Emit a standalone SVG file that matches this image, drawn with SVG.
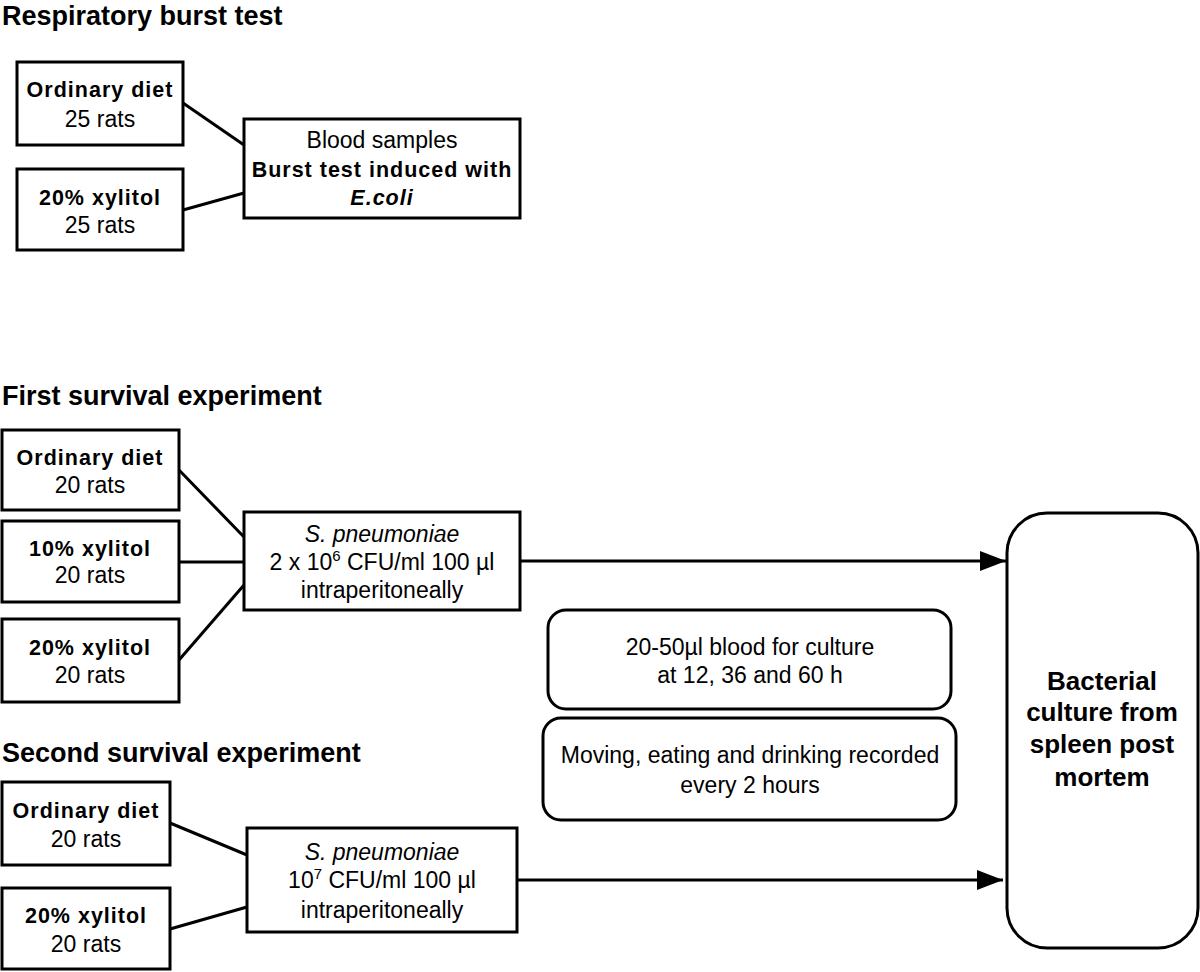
<svg xmlns="http://www.w3.org/2000/svg" width="1200" height="972" viewBox="0 0 1200 972">
<defs>
<style>
text{font-family:"Liberation Sans",Arial,sans-serif;fill:#000;}
.title{font-size:27px;font-weight:bold;}
.b{font-size:21.5px;font-weight:bold;letter-spacing:1px;}
.r{font-size:23px;}
.big{font-size:26px;font-weight:bold;}
.box{fill:#fff;stroke:#000;stroke-width:3;}
.ln{stroke:#000;stroke-width:3;fill:none;}
.c{text-anchor:middle;}
</style>
<marker id="ah" viewBox="0 0 26 20" refX="26" refY="10" markerWidth="26" markerHeight="20" markerUnits="userSpaceOnUse" orient="auto">
<path d="M0,0 L26,10 L0,20 Z" fill="#000"/>
</marker>
</defs>
<rect width="1200" height="972" fill="#fff"/>

<text class="title" x="2" y="25">Respiratory burst test</text>
<text class="title" x="2" y="405">First survival experiment</text>
<text class="title" x="2" y="762">Second survival experiment</text>

<g id="connectors">
<line class="ln" x1="183" y1="103" x2="244" y2="145"/>
<line class="ln" x1="183" y1="210" x2="244" y2="193"/>
<line class="ln" x1="179" y1="470" x2="244" y2="537"/>
<line class="ln" x1="179" y1="562" x2="244" y2="562"/>
<line class="ln" x1="179" y1="660" x2="244" y2="585"/>
<line class="ln" x1="170" y1="823" x2="247" y2="855"/>
<line class="ln" x1="170" y1="929" x2="247" y2="907"/>
<line class="ln" x1="520" y1="561" x2="1006" y2="561" marker-end="url(#ah)"/>
<line class="ln" x1="517" y1="880" x2="1003" y2="880" marker-end="url(#ah)"/>
</g>

<g id="rb-ordinary">
<rect class="box" x="17" y="62" width="166" height="83"/>
<text class="b c" x="100" y="97">Ordinary diet</text>
<text class="r c" x="100" y="127">25 rats</text>
</g>
<g id="rb-xylitol20">
<rect class="box" x="17" y="169" width="166" height="81"/>
<text class="b c" x="100" y="205">20% xylitol</text>
<text class="r c" x="100" y="233">25 rats</text>
</g>
<g id="rb-blood">
<rect class="box" x="244" y="119" width="276" height="99"/>
<text class="r c" x="382" y="148">Blood samples</text>
<text class="b c" x="382" y="177">Burst test induced with</text>
<text class="b c" x="382" y="205" font-style="italic">E.coli</text>
</g>

<g id="s1-ordinary">
<rect class="box" x="2" y="430" width="177" height="80"/>
<text class="b c" x="90" y="465">Ordinary diet</text>
<text class="r c" x="90" y="493">20 rats</text>
</g>
<g id="s1-xylitol10">
<rect class="box" x="2" y="521" width="177" height="81"/>
<text class="b c" x="90" y="556">10% xylitol</text>
<text class="r c" x="90" y="583">20 rats</text>
</g>
<g id="s1-xylitol20">
<rect class="box" x="2" y="619" width="177" height="83"/>
<text class="b c" x="90" y="655">20% xylitol</text>
<text class="r c" x="90" y="683">20 rats</text>
</g>
<g id="s1-inject">
<rect class="box" x="244" y="512" width="276" height="98"/>
<text class="r c" x="382" y="542" font-style="italic">S. pneumoniae</text>
<text class="r c" x="382" y="570">2 x 10<tspan font-size="15" dy="-9">6</tspan><tspan dy="9"> CFU/ml 100 µl</tspan></text>
<text class="r c" x="382" y="598">intraperitoneally</text>
</g>

<g id="s2-ordinary">
<rect class="box" x="2" y="782" width="168" height="83"/>
<text class="b c" x="86" y="818">Ordinary diet</text>
<text class="r c" x="86" y="847">20 rats</text>
</g>
<g id="s2-xylitol20">
<rect class="box" x="2" y="888" width="168" height="81"/>
<text class="b c" x="86" y="923">20% xylitol</text>
<text class="r c" x="86" y="952">20 rats</text>
</g>
<g id="s2-inject">
<rect class="box" x="247" y="828" width="270" height="104"/>
<text class="r c" x="382" y="860" font-style="italic">S. pneumoniae</text>
<text class="r c" x="382" y="888">10<tspan font-size="15" dy="-9">7</tspan><tspan dy="9"> CFU/ml 100 µl</tspan></text>
<text class="r c" x="382" y="918">intraperitoneally</text>
</g>

<g id="blood-culture">
<rect class="box" x="548" y="610" width="403" height="99" rx="18"/>
<text class="r c" x="750" y="655">20-50µl blood for culture</text>
<text class="r c" x="750" y="683">at 12, 36 and 60 h</text>
</g>
<g id="monitoring">
<rect class="box" x="543" y="718" width="413" height="102" rx="18"/>
<text class="r c" x="750" y="763">Moving, eating and drinking recorded</text>
<text class="r c" x="750" y="793">every 2 hours</text>
</g>
<g id="spleen">
<rect class="box" x="1007" y="513" width="191" height="435" rx="40"/>
<text class="big c" x="1102" y="690">Bacterial</text>
<text class="big c" x="1102" y="721">culture from</text>
<text class="big c" x="1102" y="753">spleen post</text>
<text class="big c" x="1102" y="786">mortem</text>
</g>
</svg>
